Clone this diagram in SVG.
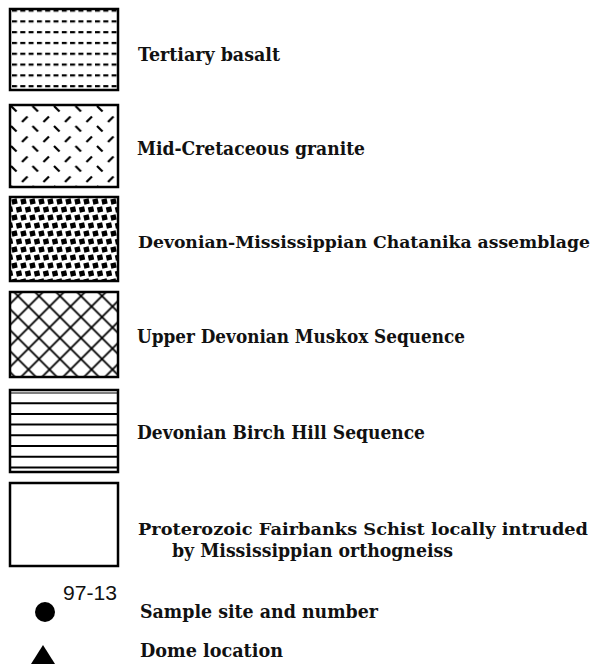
<svg xmlns="http://www.w3.org/2000/svg" width="598" height="666" viewBox="0 0 598 666">
<style>
.box{stroke:#000;stroke-width:2.5;}
.lbl{font-family:"DejaVu Serif","Liberation Serif",serif;font-weight:bold;font-size:18px;fill:#111;}
.sm{font-size:17px;}
.num{font-family:"Liberation Sans",Arial,sans-serif;font-size:20px;fill:#111;}
</style>
<defs>
<pattern id="pBasalt" patternUnits="userSpaceOnUse" x="12" y="9.5" width="8.3" height="10.8">
<rect x="0" y="0" width="5" height="2.2" fill="#000"/>
</pattern>
<pattern id="pGranite" patternUnits="userSpaceOnUse" x="10" y="104" width="21.5" height="20">
<line x1="1" y1="2" x2="6.5" y2="7.5" stroke="#000" stroke-width="2.2"/>
<line x1="12" y1="18" x2="17.5" y2="12.5" stroke="#000" stroke-width="2.2"/>
</pattern>
<pattern id="pChat" patternUnits="userSpaceOnUse" x="11" y="198" width="9" height="16">
<rect x="0.8" y="0.8" width="5.4" height="5.4" fill="#000" transform="rotate(-12 3.5 3.5)"/>
<rect x="5.3" y="8.8" width="5.4" height="5.4" fill="#000" transform="rotate(-12 8 11.5)"/>
<rect x="-3.7" y="8.8" width="5.4" height="5.4" fill="#000" transform="rotate(-12 -1 11.5)"/>
</pattern>
<pattern id="pMusk" patternUnits="userSpaceOnUse" x="7.5" y="285.5" width="21" height="21">
<path d="M0,0 L21,21 M21,0 L0,21 M-2,19 L2,23 M19,-2 L23,2 M19,23 L23,19 M-2,2 L2,-2" stroke="#000" stroke-width="1.8" fill="none"/>
</pattern>
</defs>
<g id="tertiary-basalt">
<rect class="box" x="10" y="9" width="108" height="81" fill="url(#pBasalt)"/>
<text class="lbl" x="138" y="61" textLength="142" lengthAdjust="spacingAndGlyphs">Tertiary basalt</text>
</g>
<g id="mid-cretaceous-granite">
<rect class="box" x="10" y="105" width="108" height="82" fill="url(#pGranite)"/>
<text class="lbl" x="137" y="155" textLength="228" lengthAdjust="spacingAndGlyphs">Mid-Cretaceous granite</text>
</g>
<g id="chatanika">
<rect class="box" x="10" y="197" width="108" height="84" fill="url(#pChat)"/>
<text class="lbl sm" x="138" y="248" textLength="452" lengthAdjust="spacingAndGlyphs">Devonian-Mississippian Chatanika assemblage</text>
</g>
<g id="muskox">
<rect class="box" x="10" y="292" width="108" height="85" fill="url(#pMusk)"/>
<text class="lbl" x="137" y="343" textLength="328" lengthAdjust="spacingAndGlyphs">Upper Devonian Muskox Sequence</text>
</g>
<g id="birch-hill">
<rect class="box" x="10" y="390" width="108" height="82" fill="#fff"/>
<g stroke="#000" stroke-width="2">
<line x1="10" y1="403.2" x2="118" y2="403.2"/>
<line x1="10" y1="413.9" x2="118" y2="413.9"/>
<line x1="10" y1="424.6" x2="118" y2="424.6"/>
<line x1="10" y1="435.3" x2="118" y2="435.3"/>
<line x1="10" y1="446" x2="118" y2="446"/>
<line x1="10" y1="456.7" x2="118" y2="456.7"/>
<line x1="10" y1="467.4" x2="118" y2="467.4"/>
<line x1="10" y1="393" x2="118" y2="393" stroke-width="1.2"/>
</g>
<text class="lbl" x="137" y="439" textLength="288" lengthAdjust="spacingAndGlyphs">Devonian Birch Hill Sequence</text>
</g>
<g id="fairbanks-schist">
<rect class="box" x="10" y="483" width="108" height="83" fill="#fff"/>
<text class="lbl sm" x="138" y="535" textLength="450" lengthAdjust="spacingAndGlyphs">Proterozoic Fairbanks Schist locally intruded</text>
<text class="lbl" x="172" y="557" textLength="281" lengthAdjust="spacingAndGlyphs">by Mississippian orthogneiss</text>
</g>
<g id="sample-site">
<circle cx="45" cy="612" r="10" fill="#000"/>
<text class="num" x="63" y="600" textLength="54" lengthAdjust="spacingAndGlyphs">97-13</text>
<text class="lbl" x="140" y="618" textLength="238" lengthAdjust="spacingAndGlyphs">Sample site and number</text>
</g>
<g id="dome-location">
<polygon points="43,645 55,664 31,664" fill="#000"/>
<text class="lbl" x="140" y="657" textLength="143" lengthAdjust="spacingAndGlyphs">Dome location</text>
</g>
<g id="connectors"/>
</svg>
